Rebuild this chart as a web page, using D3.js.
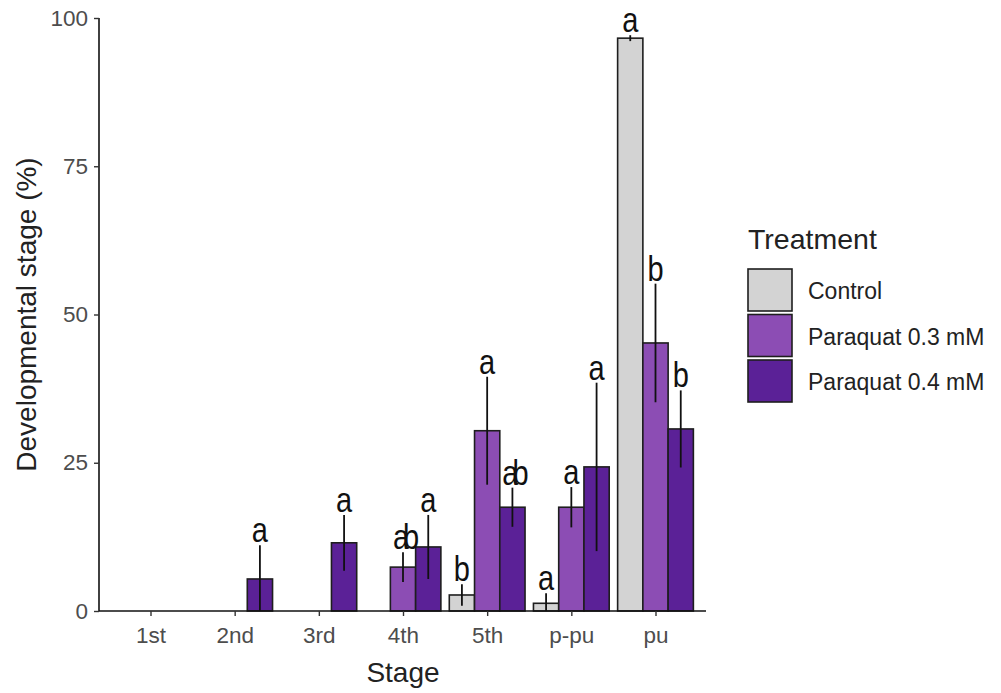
<!DOCTYPE html>
<html>
<head>
<meta charset="utf-8">
<script src="https://cdn.jsdelivr.net/npm/d3@7"></script>
<style>
  body { margin: 0; background: #fff; }
  svg text { font-family: "Liberation Sans", Arial, sans-serif; }
</style>
</head>
<body>
<svg id="chart" width="1001" height="693"></svg>
<script>
// data
var stages = ["1st", "2nd", "3rd", "4th", "5th", "p-pu", "pu"];
var treatments = ["Control", "Paraquat 0.3 mM", "Paraquat 0.4 mM"];
var controlVal = [0, 0, 0, 0, 2.7, 1.3, 96.6];
var pq03Val = [0, 0, 0, 7.4, 30.4, 17.5, 45.2];
var pq04Val = [0, 5.4, 11.5, 10.8, 17.5, 24.3, 30.7];
var controlErr = [0, 0, 0, 0, 1.8, 1.7, 0.5];
var pq03Err = [0, 0, 0, 2.5, 9.1, 3.4, 10.0];
var pq04Err = [0, 5.7, 4.7, 5.4, 3.3, 14.2, 6.5];
var controlLab = ["", "", "", "", "b", "a", "a"];
var pq03Lab = ["", "", "", "ab", "a", "a", "b"];
var pq04Lab = ["", "a", "a", "a", "ab", "a", "b"];
var yTicks = [0, 25, 50, 75, 100];

var vals = [controlVal, pq03Val, pq04Val];
var errs = [controlErr, pq03Err, pq04Err];
var labs = [controlLab, pq03Lab, pq04Lab];

var data = [];
for (var i = 0; i < stages.length; i++) {
    for (var j = 0; j < treatments.length; j++) {
        data.push({
            stage: stages[i],
            treatment: treatments[j],
            value: vals[j][i],
            err: errs[j][i],
            label: labs[j][i]
        });
    }
}

var svg = d3.select("#chart");
var pLeft = 100, pRight = 706, pTop = 18, pBottom = 611;

var x = d3.scalePoint().domain(stages).range([pLeft, pRight]).padding(0.6);
var step = x.step();
var xSub = d3.scaleBand().domain(treatments).range([-0.45 * step, 0.45 * step]);
var y = d3.scaleLinear().domain([0, 100]).range([pBottom, pTop]);

var color = d3.scaleOrdinal()
    .domain(treatments)
    .range(["#d3d3d3", "#8c4db4", "#5b2197"]);

// bars
svg.append("g").selectAll("rect")
    .data(data.filter(function (d) { return d.value > 0; }))
    .enter()
    .append("rect")
    .attr("x", function (d) { return x(d.stage) + xSub(d.treatment); })
    .attr("y", function (d) { return y(d.value); })
    .attr("width", xSub.bandwidth())
    .attr("height", function (d) { return y(0) - y(d.value); })
    .attr("fill", function (d) { return color(d.treatment); })
    .attr("stroke", "#1e1e1e")
    .attr("stroke-width", 1.6);

// error bars (no caps)
svg.append("g").selectAll("line")
    .data(data.filter(function (d) { return d.value > 0; }))
    .enter()
    .append("line")
    .attr("x1", function (d) { return x(d.stage) + xSub(d.treatment) + xSub.bandwidth() / 2; })
    .attr("x2", function (d) { return x(d.stage) + xSub(d.treatment) + xSub.bandwidth() / 2; })
    .attr("y1", function (d) { return y(Math.max(0, d.value - d.err)); })
    .attr("y2", function (d) { return y(d.value + d.err); })
    .attr("stroke", "#111")
    .attr("stroke-width", 1.8);

// significance letters
svg.append("g").selectAll("text")
    .data(data.filter(function (d) { return d.label != ""; }))
    .enter()
    .append("text")
    .attr("transform", function (d) {
        var cx = x(d.stage) + xSub(d.treatment) + xSub.bandwidth() / 2;
        var cy = y(d.value + d.err) - 3;
        return "translate(" + cx + "," + cy + ") scale(1,1.22)";
    })
    .attr("text-anchor", "middle")
    .style("font-size", "29px")
    .style("letter-spacing", function (d) { return d.label.length > 1 ? "-6px" : "0px"; })
    .attr("fill", "#111")
    .text(function (d) { return d.label; });

// axes
var yAxis = svg.append("g")
    .attr("transform", "translate(" + (pLeft - 1) + ",0)")
    .call(d3.axisLeft(y).tickValues(yTicks).tickSize(5).tickPadding(6));
var xAxis = svg.append("g")
    .attr("transform", "translate(0," + pBottom + ")")
    .call(d3.axisBottom(x).tickSize(5).tickPadding(11));

[yAxis, xAxis].forEach(function (a) {
    a.select(".domain").attr("stroke", "#111").attr("stroke-width", 1.6);
    a.selectAll(".tick line").attr("stroke", "#333").attr("stroke-width", 1.4);
    a.selectAll(".tick text").attr("fill", "#4d4d4d").style("font-size", "22.5px");
});
yAxis.select(".domain").attr("d", "M0," + pBottom + "V" + pTop);
xAxis.select(".domain").attr("d", "M" + (pLeft - 1) + ",0H" + pRight);

// axis titles
svg.append("text")
    .attr("x", (pLeft + pRight) / 2)
    .attr("y", 682)
    .attr("text-anchor", "middle")
    .style("font-size", "28px")
    .attr("fill", "#222")
    .text("Stage");
svg.append("text")
    .attr("transform", "translate(36," + ((pTop + pBottom) / 2) + ") rotate(-90)")
    .attr("text-anchor", "middle")
    .style("font-size", "28px")
    .attr("fill", "#222")
    .text("Developmental stage (%)");

// legend
var legend = svg.append("g").attr("transform", "translate(748,0)");
legend.append("text")
    .attr("x", 0)
    .attr("y", 249)
    .style("font-size", "28.5px")
    .attr("fill", "#222")
    .text("Treatment");
var keys = legend.selectAll("g.key")
    .data(treatments)
    .enter()
    .append("g")
    .attr("class", "key")
    .attr("transform", function (d, i) { return "translate(0," + (269 + i * 45.5) + ")"; });
keys.append("rect")
    .attr("width", 44)
    .attr("height", 42)
    .attr("fill", function (d) { return color(d); })
    .attr("stroke", "#1e1e1e")
    .attr("stroke-width", 1.6);
keys.append("text")
    .attr("x", 60)
    .attr("y", 30)
    .style("font-size", "23px")
    .attr("fill", "#222")
    .text(function (d) { return d; });
</script>
</body>
</html>
